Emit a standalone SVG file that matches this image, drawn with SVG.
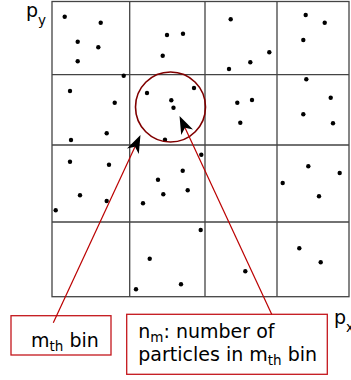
<svg xmlns="http://www.w3.org/2000/svg" width="351" height="380" viewBox="0 0 351 380">
<style>
.grid{fill:none;stroke:#444;stroke-width:1.3}
.dot{fill:#000}
.conn{fill:none;stroke:#b00;stroke-width:1.2}
.box{fill:#fff;stroke:#c4161c;stroke-width:1.3}
.t{font-family:"DejaVu Sans",sans-serif;font-size:19px;fill:#000}
.s{font-size:13.5px}
.ring{fill:none;stroke:#800000;stroke-width:1.6}
</style>
<defs>
<marker id="ah" markerUnits="userSpaceOnUse" markerWidth="20" markerHeight="14" refX="5" refY="6.5" orient="auto" overflow="visible">
<path d="M18,6.5 L0,0 L5,6.5 L0,13 Z" fill="#000"/>
</marker>
</defs>
<g id="grid">
<rect class="grid" x="52" y="1.5" width="297" height="295.2"/>
<path class="grid" d="M129.7,1.5V296.7M205,1.5V296.7M277,1.5V296.7M52,74.7H349M52,145H349M52,222H349"/>
</g>
<g id="axes">
<text class="t" x="26" y="17" font-size="20">p<tspan class="s" dy="8">y</tspan></text>
<text class="t" x="334" y="324" font-size="20">p<tspan class="s" dy="8">x</tspan></text>
</g>
<g id="particles">
<circle class="dot" cx="64.7" cy="16.7" r="2.2"/>
<circle class="dot" cx="100.7" cy="22.7" r="2.2"/>
<circle class="dot" cx="77.7" cy="41.7" r="2.2"/>
<circle class="dot" cx="98.3" cy="47.3" r="2.2"/>
<circle class="dot" cx="77.7" cy="61.3" r="2.2"/>
<circle class="dot" cx="167" cy="35" r="2.2"/>
<circle class="dot" cx="162.7" cy="55.7" r="2.2"/>
<circle class="dot" cx="183" cy="33.7" r="2.2"/>
<circle class="dot" cx="230.7" cy="19.3" r="2.2"/>
<circle class="dot" cx="269.3" cy="52.3" r="2.2"/>
<circle class="dot" cx="250.3" cy="62.3" r="2.2"/>
<circle class="dot" cx="229" cy="69" r="2.2"/>
<circle class="dot" cx="305.7" cy="15" r="2.2"/>
<circle class="dot" cx="324.7" cy="22.7" r="2.2"/>
<circle class="dot" cx="303.3" cy="40" r="2.2"/>
<circle class="dot" cx="123.7" cy="75.7" r="2.2"/>
<circle class="dot" cx="70" cy="91" r="2.2"/>
<circle class="dot" cx="114.7" cy="102.7" r="2.2"/>
<circle class="dot" cx="71" cy="140" r="2.2"/>
<circle class="dot" cx="106.7" cy="133.3" r="2.2"/>
<circle class="dot" cx="147" cy="93" r="2.2"/>
<circle class="dot" cx="171.3" cy="100.2" r="2.2"/>
<circle class="dot" cx="173.5" cy="107.7" r="2.2"/>
<circle class="dot" cx="165" cy="139.7" r="2.2"/>
<circle class="dot" cx="194" cy="88" r="2.2"/>
<circle class="dot" cx="237.3" cy="102.7" r="2.2"/>
<circle class="dot" cx="252" cy="100" r="2.2"/>
<circle class="dot" cx="240.3" cy="122.7" r="2.2"/>
<circle class="dot" cx="306.3" cy="79.3" r="2.2"/>
<circle class="dot" cx="330.7" cy="97.7" r="2.2"/>
<circle class="dot" cx="303.3" cy="114.3" r="2.2"/>
<circle class="dot" cx="333" cy="123.3" r="2.2"/>
<circle class="dot" cx="70" cy="161.7" r="2.2"/>
<circle class="dot" cx="109" cy="164.7" r="2.2"/>
<circle class="dot" cx="80" cy="195.3" r="2.2"/>
<circle class="dot" cx="106.7" cy="201" r="2.2"/>
<circle class="dot" cx="55.7" cy="210.3" r="2.2"/>
<circle class="dot" cx="158" cy="179.7" r="2.2"/>
<circle class="dot" cx="163.3" cy="194.3" r="2.2"/>
<circle class="dot" cx="143" cy="203.3" r="2.2"/>
<circle class="dot" cx="201.3" cy="154.7" r="2.2"/>
<circle class="dot" cx="182.7" cy="170.7" r="2.2"/>
<circle class="dot" cx="187.7" cy="190.3" r="2.2"/>
<circle class="dot" cx="308.3" cy="166.3" r="2.2"/>
<circle class="dot" cx="339.7" cy="173" r="2.2"/>
<circle class="dot" cx="282.7" cy="183" r="2.2"/>
<circle class="dot" cx="319" cy="196.3" r="2.2"/>
<circle class="dot" cx="200.7" cy="230" r="2.2"/>
<circle class="dot" cx="149.7" cy="258.7" r="2.2"/>
<circle class="dot" cx="136" cy="289.3" r="2.2"/>
<circle class="dot" cx="181" cy="284.3" r="2.2"/>
<circle class="dot" cx="245.3" cy="271.3" r="2.2"/>
<circle class="dot" cx="299.3" cy="248.3" r="2.2"/>
<circle class="dot" cx="320.7" cy="262.3" r="2.2"/>
</g>
<g id="bin-circle">
<circle class="ring" cx="170.5" cy="107" r="35"/>
</g>
<g id="label-bin">
<rect class="box" x="11" y="315.7" width="100" height="39.3"/>
<text class="t" x="31" y="346.5">m<tspan class="s" dy="4">th</tspan><tspan dy="-4"> bin</tspan></text>
</g>
<g id="label-count">
<rect class="box" x="126.7" y="314.3" width="200.6" height="60"/>
<text class="t" x="138.3" y="338.3">n<tspan class="s" dy="4">m</tspan><tspan dy="-4">: number of</tspan></text>
<text class="t" x="138.3" y="360.5">particles in m<tspan class="s" dy="4">th</tspan><tspan dy="-4"> bin</tspan></text>
</g>
<g id="connectors">
<path class="conn" d="M53.3,322.7L135,146.8" marker-end="url(#ah)"/>
<path class="conn" d="M271.7,314.3L185,127.8" marker-end="url(#ah)"/>
</g>
</svg>
